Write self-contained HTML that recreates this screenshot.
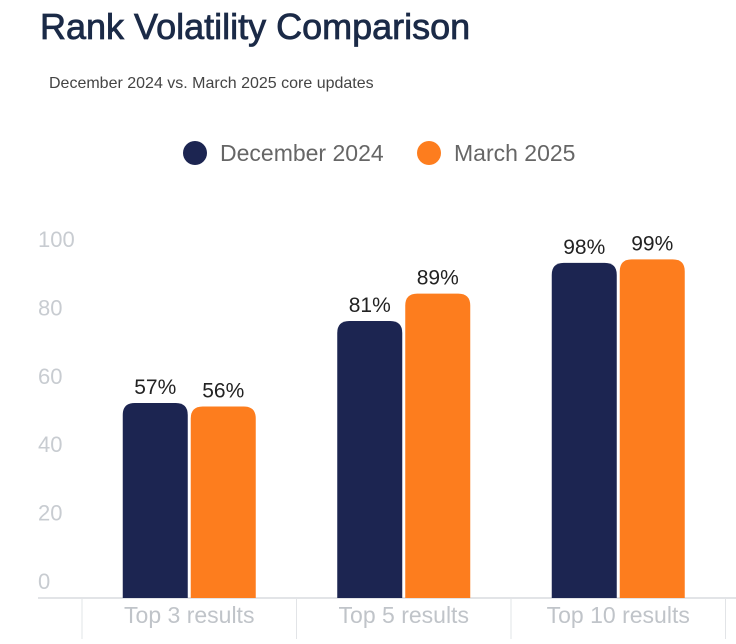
<!DOCTYPE html>
<html><head><meta charset="utf-8"><style>
body{margin:0;width:736px;height:639px;background:#fff;overflow:hidden;font-family:"Liberation Sans",sans-serif}
</style></head><body>
<svg width="736" height="639" xmlns="http://www.w3.org/2000/svg">
<text x="40" y="39" font-size="36" fill="#1b2a47" stroke="#1b2a47" stroke-width="0.8">Rank Volatility Comparison</text>
<text x="49" y="88" font-size="16" fill="#444">December 2024 vs. March 2025 core updates</text>
<g>
<circle cx="195" cy="153" r="12" fill="#1c2551"/>
<text x="220" y="161" font-size="23" fill="#666">December 2024</text>
<circle cx="429" cy="153" r="12" fill="#fd7d1e"/>
<text x="454" y="161" font-size="23" fill="#666">March 2025</text>
</g>
<g id="plot"></g>
</svg>
<script>
const categories=["Top 3 results","Top 5 results","Top 10 results"];
const dec=[57,81,98];
const mar=[56,89,99];
const ticks=[0,20,40,60,80,100];
const NS="http://www.w3.org/2000/svg";
const g=document.getElementById('plot');
const y0=598,y100=256;
const y=v=>y0-(y0-y100)*v/100;
const bandL=82,bandW=214.5;
function el(t,a){const e=document.createElementNS(NS,t);for(const k in a)e.setAttribute(k,a[k]);g.appendChild(e);return e;}
ticks.forEach(t=>{const e=el('text',{x:38,y:y(t)-9,'font-size':22,fill:'#c8ccd1'});e.textContent=t;

});
let ax=el('line',{x1:38,x2:736,y1:y0,y2:y0,stroke:'#d8dbdf','stroke-width':1.5});


for(let i=0;i<=categories.length;i++){const s=el('line',{x1:bandL+i*bandW,x2:bandL+i*bandW,y1:y0,y2:639,stroke:'#e2e4e7','stroke-width':1});

}
function bar(x,w,v,c){const top=y(v),r=12;
const p=el('path',{d:`M${x},${y0}V${top+r}Q${x},${top} ${x+r},${top}H${x+w-r}Q${x+w},${top} ${x+w},${top+r}V${y0}Z`,fill:c});
return p;}
categories.forEach((c,i)=>{const cx=bandL+i*bandW+bandW/2;const w=65;
const b1=bar(cx-w-1.5,w,dec[i],'#1c2551');


const b2=bar(cx+1.5,w,mar[i],'#fd7d1e');


const l1=el('text',{x:cx-w/2-1.5,y:y(dec[i])-9,'font-size':21,fill:'#222','text-anchor':'middle'});l1.textContent=dec[i]+'%';


const l2=el('text',{x:cx+w/2+1.5,y:y(mar[i])-9,'font-size':21,fill:'#222','text-anchor':'middle'});l2.textContent=mar[i]+'%';


const cl=el('text',{x:cx,y:623,'font-size':23,fill:'#c0c4c9','text-anchor':'middle'});cl.textContent=c;


});
</script>
</body></html>
